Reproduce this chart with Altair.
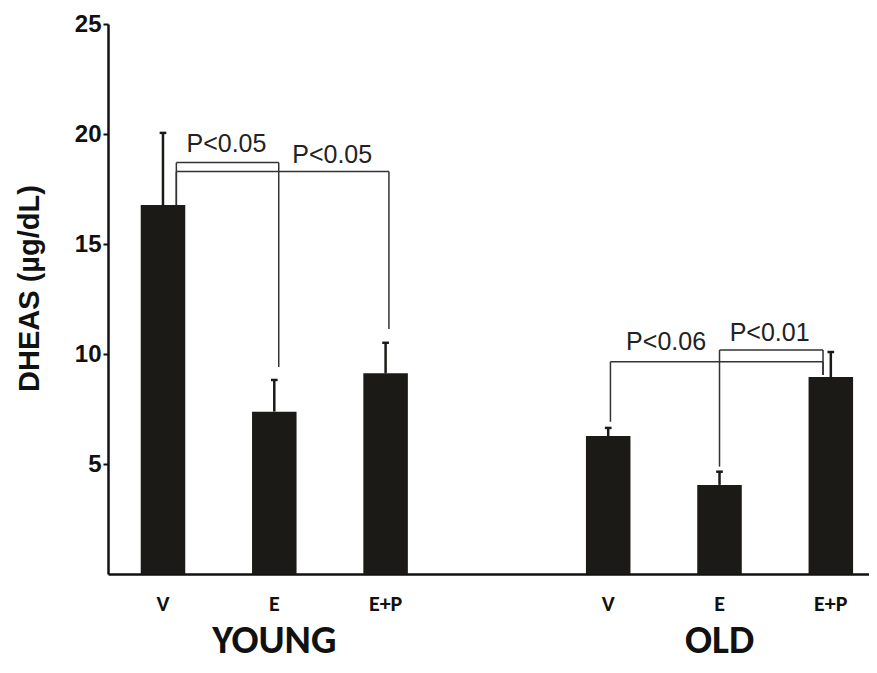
import altair as alt
import pandas as pd

# ---- data ----
groups = ["YOUNG", "YOUNG", "YOUNG", "OLD", "OLD", "OLD"]
treatments = ["V", "E", "E+P", "V", "E", "E+P"]
positions = [0, 1, 2, 4, 5, 6]
means = [16.77, 7.38, 9.12, 6.27, 4.05, 8.95]
error_tops = [20.05, 8.82, 10.51, 6.64, 4.65, 10.09]

group_labels = ["YOUNG", "OLD"]
group_positions = [1, 5]

bracket_labels = ["P<0.05", "P<0.05", "P<0.06", "P<0.01"]
bracket_left = [0.12, 0.12, 4.02, 5.0]
bracket_right = [1.04, 2.03, 5.93, 5.93]
bracket_top = [18.70, 18.29, 9.65, 10.18]
bracket_left_bottom = [16.77, 16.77, 6.92, 4.88]
bracket_right_bottom = [9.41, 11.14, 9.05, 9.05]
label_x = [0.57, 1.52, 4.52, 5.45]
label_y = [19.55, 19.05, 10.55, 10.95]

y_ticks = [5, 10, 15, 20, 25]

# ---- tables ----
HALF = 0.2
CAP = 0.03
bars = pd.DataFrame({
    "group": groups, "treatment": treatments, "pos": positions,
    "mean": means, "top": error_tops,
})
bars["x1"] = bars["pos"] - HALF
bars["x2"] = bars["pos"] + HALF
bars["c1"] = bars["pos"] - CAP
bars["c2"] = bars["pos"] + CAP
bars["zero"] = 0

segs = []
for l, r, t, lb, rb in zip(bracket_left, bracket_right, bracket_top,
                           bracket_left_bottom, bracket_right_bottom):
    segs.append({"xa": l, "xb": r, "ya": t, "yb": t})
    segs.append({"xa": l, "xb": l, "ya": t, "yb": lb})
    segs.append({"xa": r, "xb": r, "ya": t, "yb": rb})
segs = pd.DataFrame(segs)

plabels = pd.DataFrame({"text": bracket_labels, "x": label_x, "y": label_y})
glabels = pd.DataFrame({"text": group_labels, "pos": group_positions})

xscale = alt.Scale(domain=[-0.494, 6.343], nice=False, zero=False)
yscale = alt.Scale(domain=[0, 25], nice=False)

xaxis = alt.Axis(title=None, labels=False, ticks=False, grid=False,
                 domainColor="#111", domainWidth=2.5)
yaxis = alt.Axis(title="DHEAS (µg/dL)", values=y_ticks, grid=False,
                 domainColor="#111", domainWidth=2.5,
                 tickColor="#111", tickWidth=2, tickSize=5,
                 labelFont="Liberation Sans", labelFontSize=24,
                 labelFontWeight="bold", labelColor="#111",
                 labelPadding=2,
                 titleFont="Liberation Sans", titleFontSize=29,
                 titleFontWeight="bold", titleColor="#111",
                 titleAngle=270, titleX=-79, titleY=264,
                 titleAlign="center", titleBaseline="middle")

COND = "Liberation Sans Narrow, Carlito, Open Sans, sans-serif"
BAR = "#1c1a17"

base_bars = alt.Chart(bars).mark_bar(color=BAR).encode(
    x=alt.X("x1:Q", scale=xscale, axis=xaxis),
    x2="x2:Q",
    y=alt.Y("mean:Q", scale=yscale, axis=yaxis),
    y2="zero:Q",
)

err_line = alt.Chart(bars).mark_rule(color=BAR, strokeWidth=2.5).encode(
    x=alt.X("pos:Q", scale=xscale, axis=xaxis),
    y=alt.Y("mean:Q", scale=yscale, axis=yaxis),
    y2="top:Q",
)
err_cap = alt.Chart(bars).mark_rule(color=BAR, strokeWidth=2.5).encode(
    x=alt.X("c1:Q", scale=xscale, axis=xaxis),
    x2="c2:Q",
    y=alt.Y("top:Q", scale=yscale, axis=yaxis),
)

brackets = alt.Chart(segs).mark_rule(color="#333", strokeWidth=1.5).encode(
    x=alt.X("xa:Q", scale=xscale, axis=xaxis),
    x2="xb:Q",
    y=alt.Y("ya:Q", scale=yscale, axis=yaxis),
    y2="yb:Q",
)

ptext = alt.Chart(plabels).mark_text(
    font="Liberation Sans", fontSize=25, color="#222", baseline="middle",
    align="center").encode(
    x=alt.X("x:Q", scale=xscale, axis=xaxis),
    y=alt.Y("y:Q", scale=yscale, axis=yaxis),
    text="text:N",
)

cat_text = alt.Chart(bars).mark_text(
    font=COND, fontSize=22, fontWeight="bold", color="#111",
    baseline="middle", align="center").encode(
    x=alt.X("pos:Q", scale=xscale, axis=xaxis),
    y=alt.value(580),
    text="treatment:N",
)

grp_text = alt.Chart(glabels).mark_text(
    font=COND, fontSize=40, fontWeight="bold", color="#111",
    baseline="middle", align="center").encode(
    x=alt.X("pos:Q", scale=xscale, axis=xaxis),
    y=alt.value(617),
    text="text:N",
)

chart = alt.layer(base_bars, err_line, err_cap, brackets, ptext,
                  cat_text, grp_text).properties(
    width=761, height=550,
    background="white",
    autosize=alt.AutoSizeParams(type="none"),
    padding={"left": 100, "top": 16, "right": 0, "bottom": 100},
).configure_view(stroke=None)

chart.save("out.html", embed_options={"renderer": "svg", "actions": False})
